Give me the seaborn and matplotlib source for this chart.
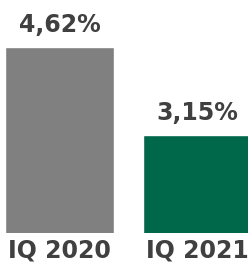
import matplotlib
matplotlib.use("Agg")
import matplotlib.pyplot as plt
import seaborn as sns
import pandas as pd

# data
quarters = ["IQ 2020", "IQ 2021"]
rates = [4.62, 3.15]
rate_labels = ["4,62%", "3,15%"]
bar_colors = ["#808080", "#00684a"]

df = pd.DataFrame({"quarter": quarters, "rate": rates})

sns.set_style("white")
plt.rcParams["font.family"] = ["DejaVu Sans"]

fig = plt.figure(figsize=(2.48, 2.62), dpi=100)
ax = fig.add_axes([0, 0.1107, 1, 0.7099])

sns.barplot(
    data=df, x="quarter", y="rate", hue="quarter",
    palette=bar_colors, saturation=1, width=0.79,
    legend=False, ax=ax,
)

# axis does not start at zero in the original
ax.set_ylim(1.513, 4.62)
ax.set_xlim(-0.431, 1.366)

for container, lab in zip(ax.containers, rate_labels):
    ax.bar_label(container, labels=[lab], padding=7, fontsize=17,
                 fontweight="bold", color="#404040", clip_on=False)

ax.tick_params(axis="x", length=0, pad=4, labelsize=17, labelcolor="#404040")
for t in ax.get_xticklabels():
    t.set_fontweight("bold")
ax.set_yticks([])
ax.set_xlabel("")
ax.set_ylabel("")
sns.despine(ax=ax, left=True, bottom=True)

fig.savefig("out.png", dpi=100)
